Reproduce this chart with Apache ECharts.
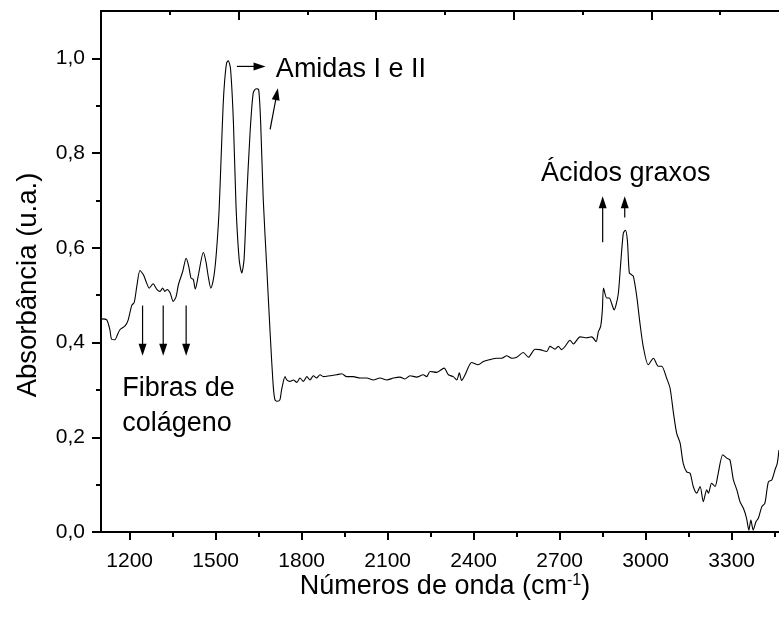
<!DOCTYPE html>
<html>
<head>
<meta charset="utf-8">
<script src="https://cdn.jsdelivr.net/npm/echarts@6/dist/echarts.min.js"></script>
<style>
  html, body { margin: 0; padding: 0; background: #ffffff; }
  #chart { width: 779px; height: 621px; }
</style>
</head>
<body>
<div id="chart"></div>
<script>
// FTIR spectrum: wavenumber (cm-1) and absorbance (a.u.)
const wavenumbers = [
  1102, 1120, 1131, 1137, 1149, 1155, 1166, 1184, 1195, 1207, 1216, 1225, 1236, 1248, 1259, 1268,
  1282, 1294, 1306, 1315, 1323, 1331, 1341, 1352, 1362, 1370, 1385, 1397, 1406, 1414, 1422, 1429,
  1439, 1457, 1466, 1474, 1483, 1491, 1498, 1505, 1512, 1519, 1526, 1531, 1538, 1544, 1552, 1562,
  1571, 1582, 1591, 1599, 1608, 1620, 1631, 1641, 1650, 1657, 1666, 1678, 1690, 1701, 1707, 1715,
  1724, 1730, 1742, 1748, 1759, 1771, 1783, 1794, 1806, 1818, 1829, 1841, 1852, 1864, 1876, 1899,
  1922, 1940, 1957, 1980, 2004, 2027, 2050, 2073, 2097, 2120, 2143, 2160, 2178, 2201, 2224, 2236,
  2248, 2271, 2297, 2312, 2329, 2341, 2350, 2358, 2370, 2393, 2416, 2434, 2457, 2480, 2498, 2515,
  2533, 2550, 2573, 2591, 2614, 2631, 2655, 2666, 2684, 2695, 2707, 2719, 2736, 2748, 2771, 2794,
  2812, 2827, 2835, 2843, 2849, 2853, 2864, 2873, 2881, 2890, 2904, 2912, 2922, 2929, 2936, 2943,
  2951, 2957, 2969, 2980, 2992, 3009, 3027, 3044, 3056, 3073, 3085, 3097, 3108, 3120, 3131, 3143,
  3155, 3166, 3178, 3190, 3201, 3213, 3219, 3230, 3242, 3253, 3269, 3283, 3294, 3306, 3318, 3329,
  3341, 3352, 3360, 3367, 3375, 3385, 3393, 3405, 3416, 3428, 3440, 3451, 3459, 3465
];
const absorbance = [
  0.450, 0.448, 0.427, 0.407, 0.406, 0.413, 0.427, 0.435, 0.448, 0.478, 0.485, 0.519, 0.552, 0.543, 0.526, 0.515,
  0.524, 0.513, 0.508, 0.515, 0.508, 0.512, 0.505, 0.487, 0.497, 0.522, 0.550, 0.578, 0.561, 0.536, 0.533, 0.513,
  0.540, 0.590, 0.571, 0.540, 0.515, 0.530, 0.560, 0.610, 0.680, 0.790, 0.900, 0.950, 0.990, 0.995, 0.977, 0.864,
  0.688, 0.575, 0.547, 0.575, 0.702, 0.843, 0.927, 0.936, 0.934, 0.864, 0.702, 0.561, 0.420, 0.307, 0.279, 0.276,
  0.279, 0.300, 0.328, 0.321, 0.318, 0.321, 0.316, 0.325, 0.318, 0.328, 0.321, 0.330, 0.325, 0.332, 0.328, 0.330,
  0.332, 0.334, 0.328, 0.328, 0.325, 0.325, 0.321, 0.325, 0.321, 0.325, 0.327, 0.323, 0.330, 0.327, 0.332, 0.328,
  0.339, 0.337, 0.346, 0.332, 0.328, 0.321, 0.336, 0.320, 0.332, 0.358, 0.353, 0.360, 0.364, 0.367, 0.367, 0.372,
  0.367, 0.369, 0.379, 0.369, 0.386, 0.385, 0.381, 0.392, 0.386, 0.392, 0.385, 0.392, 0.405, 0.397, 0.412, 0.410,
  0.412, 0.402, 0.423, 0.434, 0.469, 0.515, 0.494, 0.494, 0.483, 0.469, 0.501, 0.560, 0.631, 0.637, 0.617, 0.547,
  0.543, 0.540, 0.497, 0.441, 0.390, 0.353, 0.367, 0.350, 0.350, 0.325, 0.304, 0.251, 0.209, 0.188, 0.145, 0.127,
  0.124, 0.096, 0.082, 0.096, 0.064, 0.089, 0.082, 0.103, 0.096, 0.124, 0.163, 0.156, 0.152, 0.110, 0.089, 0.064,
  0.050, 0.029, 0.004, 0.025, 0.004, 0.022, 0.029, 0.053, 0.061, 0.106, 0.110, 0.131, 0.145, 0.173
];

// Axis ticks
const xMajorTicks = [1200, 1500, 1800, 2100, 2400, 2700, 3000, 3300];
const xMinorTicks = [1350, 1650, 1950, 2250, 2550, 2850, 3150, 3450];
const yMajorTicks = [0, 0.2, 0.4, 0.6, 0.8, 1.0];
const yMinorTicks = [0.1, 0.3, 0.5, 0.7, 0.9];

// Band annotations (arrows in data units: [from, to])
const bandArrows = [
  [[1574, 0.983], [1674, 0.983]],
  [[1690, 0.850], [1717, 0.937]],
  [[2850, 0.612], [2850, 0.709]],
  [[2927, 0.664], [2927, 0.709]],
  [[1245, 0.478], [1245, 0.372]],
  [[1317, 0.478], [1317, 0.372]],
  [[1397, 0.478], [1397, 0.372]]
];
const bandLabels = [
  { text: 'Amidas I e II', at: [1710, 0.977] },
  { text: 'Ácidos graxos', at: [2635, 0.757] },
  { text: 'Fibras de', at: [1174, 0.303] },
  { text: 'colágeno', at: [1174, 0.229] }
];

const FONT = '"Liberation Sans", Arial, Helvetica, sans-serif';
const spectrum = wavenumbers.map((w, i) => [w, absorbance[i]]);

const chart = echarts.init(document.getElementById('chart'), null, { renderer: 'canvas' });

const option = {
  animation: false,
  backgroundColor: '#ffffff',
  grid: {
    left: 101, right: -10, top: 11, bottom: 89,
    containLabel: false,
    outerBoundsMode: 'none'
  },
  xAxis: [
    {
      type: 'value', position: 'bottom', min: 1100, max: 3500,
      axisLine: { show: true, onZero: false, lineStyle: { color: '#000', width: 2 } },
      axisTick: { show: true, inside: false, length: 8, customValues: xMajorTicks, lineStyle: { color: '#000', width: 2 } },
      axisLabel: {
        customValues: xMajorTicks, color: '#000', fontSize: 21, fontFamily: FONT, margin: 19,
        formatter: v => String(v)
      },
      splitLine: { show: false },
      name: '{t|Números de onda (cm}{s|-1}{t|)}',
      nameLocation: 'middle',
      nameGap: 41,
      nameMoveOverlap: false,
      nameTextStyle: {
        color: '#000',
        rich: {
          t: { fontSize: 27, fontFamily: FONT, color: '#000' },
          s: { fontSize: 16, fontFamily: FONT, color: '#000', verticalAlign: 'top' }
        }
      }
    },
    {
      type: 'value', position: 'bottom', min: 1100, max: 3500,
      axisLine: { show: false },
      axisTick: { show: true, inside: false, length: 5, customValues: xMinorTicks, lineStyle: { color: '#000', width: 2 } },
      axisLabel: { show: false },
      splitLine: { show: false }
    },
    {
      type: 'value', position: 'top', min: 0, max: 10, interval: 2,
      axisLine: { show: true, onZero: false, lineStyle: { color: '#000', width: 2 } },
      axisTick: { show: true, inside: true, length: 9, lineStyle: { color: '#000', width: 2 } },
      minorTick: { show: true, splitNumber: 2, length: 4, lineStyle: { color: '#000', width: 2 } },
      axisLabel: { show: false },
      splitLine: { show: false }
    }
  ],
  yAxis: [
    {
      type: 'value', position: 'left', min: 0, max: 1.1,
      axisLine: { show: true, onZero: false, lineStyle: { color: '#000', width: 2 } },
      axisTick: { show: true, inside: false, length: 9, customValues: yMajorTicks, lineStyle: { color: '#000', width: 2 } },
      axisLabel: {
        customValues: yMajorTicks, color: '#000', fontSize: 21, fontFamily: FONT, margin: 16,
        formatter: v => v.toFixed(1).replace('.', ',')
      },
      splitLine: { show: false }
    },
    {
      type: 'value', position: 'left', min: 0, max: 1.1,
      axisLine: { show: false },
      axisTick: { show: true, inside: false, length: 5, customValues: yMinorTicks, lineStyle: { color: '#000', width: 2 } },
      axisLabel: { show: false },
      splitLine: { show: false }
    }
  ],
  series: [
    {
      type: 'line',
      xAxisIndex: 0,
      yAxisIndex: 0,
      data: spectrum,
      showSymbol: false,
      smooth: 0.25,
      lineStyle: { color: '#000', width: 1.1 },
      clip: true
    }
  ]
};

chart.setOption(option);

// Annotations placed through the series' coordinate system
const toPx = p => chart.convertToPixel({ seriesIndex: 0 }, p);

function arrowShapes(from, to) {
  const a = toPx(from), b = toPx(to);
  const dx = b[0] - a[0], dy = b[1] - a[1];
  const len = Math.hypot(dx, dy);
  const ux = dx / len, uy = dy / len;
  const headLen = 12, headHalf = 4;
  const base = [b[0] - ux * headLen, b[1] - uy * headLen];
  return [
    {
      type: 'line', silent: true,
      shape: { x1: a[0], y1: a[1], x2: base[0] + ux * 2, y2: base[1] + uy * 2 },
      style: { stroke: '#000', lineWidth: 1.2 }
    },
    {
      type: 'polygon', silent: true,
      shape: { points: [b, [base[0] - uy * headHalf, base[1] + ux * headHalf], [base[0] + uy * headHalf, base[1] - ux * headHalf]] },
      style: { fill: '#000' }
    }
  ];
}

const graphics = [];
bandArrows.forEach(([from, to]) => graphics.push(...arrowShapes(from, to)));
bandLabels.forEach(lbl => {
  const p = toPx(lbl.at);
  graphics.push({
    type: 'text', silent: true, x: p[0], y: p[1],
    style: { text: lbl.text, fill: '#000', font: '27px ' + FONT, align: 'left', verticalAlign: 'middle' }
  });
});

// Y axis title, drawn vertically at the left of the plot
graphics.push({
  type: 'text', silent: true, x: 28, y: 285, rotation: Math.PI / 2,
  style: { text: 'Absorbância (u.a.)', fill: '#000', font: '27.5px ' + FONT, align: 'center', verticalAlign: 'middle' }
});

chart.setOption({ graphic: graphics });
</script>
</body>
</html>
